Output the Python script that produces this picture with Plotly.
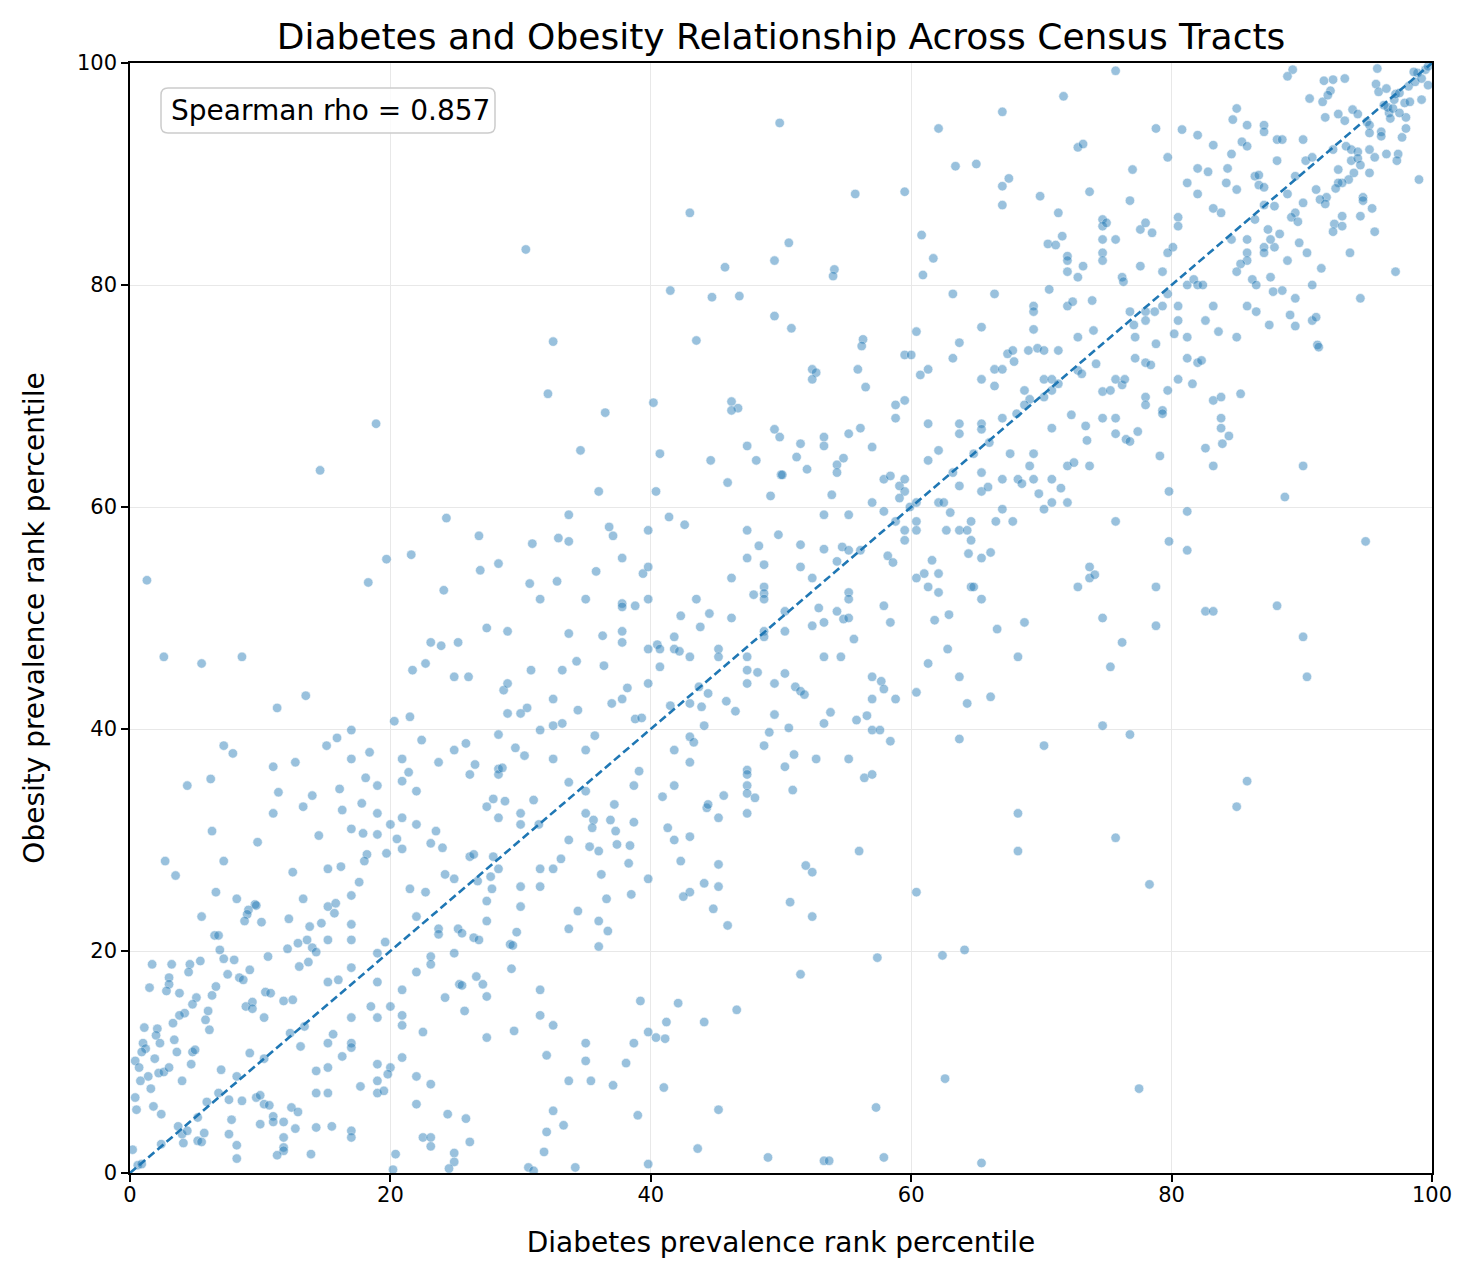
import plotly.graph_objects as go

# ===============================================================
# Data: rank percentiles, grouped by region
# ===============================================================

# lower-left block (diabetes 0-25, obesity 0-33)
diab_a = [
    11.0, 13.3, 16.3, 17.8, 19.0, 6.3, 9.8, 14.5, 17.0, 17.9,
    19.0, 20.0, 20.9, 22.0, 23.5, 23.1, 24.0, 20.5, 20.9, 19.7,
    2.7, 7.2, 3.5, 12.5, 15.2, 16.2, 18.2, 18.0, 17.6, 24.2,
    24.9, 6.6, 8.2, 13.3, 9.6, 9.1, 9.7, 9.0, 8.8, 10.1,
    5.5, 12.2, 15.2, 15.8, 15.7, 17.0, 21.5, 22.7, 22.0, 23.7,
    23.7, 25.2, 6.5, 6.8, 13.8, 14.7, 17.0, 17.0, 15.2, 13.6,
    12.9, 12.1, 14.0, 14.3, 13.7, 13.0, 10.6, 6.9, 7.2, 8.0,
    9.2, 1.7, 3.2, 4.6, 4.5, 5.4, 3.0, 3.0, 2.8, 1.5,
    3.8, 5.1, 4.8, 4.2, 3.8, 6.0, 5.8, 6.1, 6.3, 6.6,
    7.5, 8.4, 8.7, 10.4, 10.8, 8.9, 9.4, 9.4, 10.3, 11.8,
    12.5, 15.2, 16.0, 17.0, 19.0, 19.6, 19.0, 18.5, 20.0, 19.0,
    17.0, 20.9, 20.9, 20.9, 22.0, 23.1, 23.1, 24.2, 24.9, 25.3,
    22.5, 1.1, 2.1, 2.0, 2.3, 1.0, 1.2, 0.9, 3.4, 3.3,
    3.6, 4.8, 5.0, 4.7, 1.9, 0.4, 0.7, 1.4, 2.2, 2.6,
    3.0, 0.8, 1.6, 4.0, 7.0, 9.2, 10.3, 12.3, 13.4, 13.1,
    15.6, 15.2, 17.0, 17.0, 16.3, 14.3, 15.2, 19.0, 20.0, 19.8,
    19.0, 19.0, 19.5, 17.7, 15.2, 14.3, 20.9, 22.0, 23.1, 22.0,
    24.4, 22.5, 23.1, 23.1, 24.9, 24.9, 24.5, 20.4, 20.2, 0.4,
    0.5, 1.8, 2.4, 6.8, 8.2, 7.6, 8.6, 9.7, 10.0, 10.3,
    10.7, 5.9, 5.2, 3.7, 4.0, 4.4, 4.1, 2.4, 5.2, 5.5,
    5.7, 7.8, 7.6, 8.2, 8.2, 10.0, 11.0, 11.0, 11.8, 12.4,
    12.9, 12.7, 11.8, 11.8, 11.8, 11.3, 13.9, 14.3, 15.5, 17.0,
    17.0, 0.2, 0.6, 0.9,
]
obes_a = [
    32.4, 33.0, 32.7, 33.3, 32.4, 30.8, 29.8, 30.4, 31.0, 30.6,
    30.5, 31.4, 32.0, 31.4, 30.8, 29.7, 29.3, 30.1, 29.2, 28.8,
    28.1, 28.1, 26.8, 27.1, 27.4, 27.6, 28.7, 28.1, 26.2, 26.9,
    26.5, 25.3, 24.7, 24.7, 24.2, 23.7, 24.1, 23.3, 22.7, 22.6,
    23.1, 22.9, 24.0, 24.3, 23.4, 25.0, 25.6, 25.3, 23.1, 22.0,
    21.5, 22.0, 21.4, 21.4, 22.2, 22.5, 22.4, 21.0, 21.0, 21.0,
    20.7, 20.2, 20.3, 19.9, 19.0, 18.6, 19.5, 20.1, 19.3, 19.2,
    18.3, 18.8, 18.8, 18.8, 18.1, 19.1, 17.6, 17.0, 16.4, 16.7,
    16.2, 15.8, 15.2, 14.4, 14.2, 14.6, 13.8, 12.9, 16.0, 16.8,
    17.9, 17.6, 17.4, 16.3, 16.2, 15.0, 15.4, 14.8, 14.0, 15.5,
    15.6, 17.2, 17.4, 18.5, 19.8, 20.8, 17.2, 15.0, 15.0, 14.0,
    14.0, 16.5, 14.2, 13.3, 18.1, 19.5, 18.8, 15.8, 19.8, 17.0,
    12.7, 13.1, 13.0, 12.4, 11.7, 11.7, 11.2, 10.9, 12.0, 13.5,
    10.9, 10.9, 11.1, 9.8, 10.3, 10.1, 9.5, 8.7, 9.0, 9.1,
    9.5, 8.3, 7.6, 8.3, 9.3, 10.8, 10.3, 12.6, 13.2, 11.4,
    12.5, 11.7, 11.7, 11.3, 10.5, 9.2, 9.5, 9.8, 9.5, 8.9,
    8.3, 7.2, 7.4, 7.8, 7.2, 7.2, 10.4, 8.7, 8.0, 6.2,
    5.3, 3.2, 3.2, 2.4, 1.8, 1.0, 0.4, 1.7, 0.3, 6.8,
    5.7, 6.0, 5.3, 7.2, 8.7, 6.6, 6.5, 6.8, 7.0, 6.2,
    6.1, 6.4, 5.0, 4.2, 3.5, 3.8, 2.7, 2.6, 2.9, 2.8,
    3.6, 4.8, 3.5, 2.5, 1.3, 4.4, 5.1, 4.6, 4.6, 5.9,
    5.5, 4.0, 3.2, 2.3, 2.0, 1.6, 1.7, 4.1, 4.2, 3.8,
    3.2, 2.1, 0.7, 0.8,
]

# left middle (diabetes 0-25, obesity 33-67) plus the lone upper outlier
diab_b = [
    14.6, 24.3, 19.7, 21.6, 18.3, 24.1, 1.3, 2.6, 5.5, 8.6,
    23.1, 23.9, 25.2, 21.7, 22.7, 24.9, 13.5, 11.3, 20.3, 21.5,
    22.4, 24.9, 23.7, 7.2, 7.9, 11.0, 12.7, 15.1, 15.9, 17.0,
    18.4, 17.0, 20.9, 21.4, 20.9, 22.0, 18.1, 19.0, 16.1, 14.0,
    11.4, 4.4, 6.2, 18.9,
]
obes_b = [
    63.3, 59.0, 55.3, 55.7, 53.2, 52.5, 53.4, 46.5, 45.9, 46.5,
    47.8, 47.5, 47.8, 45.3, 45.9, 44.7, 43.0, 41.9, 40.7, 41.1,
    39.0, 38.1, 37.0, 38.5, 37.8, 36.6, 37.0, 38.5, 39.2, 39.9,
    37.9, 37.3, 37.3, 36.1, 35.3, 34.4, 35.6, 34.9, 34.6, 34.0,
    34.3, 34.9, 35.5, 67.5,
]

# diabetes 25-50, obesity 0-33
diab_c = [
    27.4, 28.3, 30.0, 30.0, 31.4, 35.0, 35.6, 35.5, 36.9, 37.2,
    37.3, 38.7, 33.7, 35.3, 36.0, 37.4, 38.4, 38.3, 36.2, 36.6,
    38.5, 39.8, 33.1, 32.5, 31.5, 31.5, 30.0, 30.0, 26.1, 26.4,
    27.9, 28.3, 27.7, 26.7, 27.8, 27.4, 27.4, 25.5, 26.4, 26.8,
    29.7, 29.2, 29.4, 33.7, 34.4, 36.0, 36.7, 36.0, 29.3, 26.6,
    27.1, 25.5, 27.4, 25.7, 31.5, 31.5, 32.5, 29.5, 27.4, 32.0,
    35.0, 35.0, 33.7, 35.4, 37.1, 38.1, 38.7, 39.2, 39.8, 40.4,
    41.1, 41.2, 42.1, 44.1, 46.6, 41.0, 45.2, 39.0, 43.6, 49.0,
    39.8, 34.2, 30.6, 31.0, 25.8, 26.1, 32.5, 33.3, 32.0, 31.8,
    41.3, 41.8, 43.0, 42.3, 45.2, 44.3, 44.4, 47.4, 45.2, 44.1,
    45.2, 43.0, 42.5, 44.8, 45.9,
]
obes_c = [
    33.0, 32.0, 32.4, 31.4, 31.4, 32.4, 31.8, 31.1, 31.8, 33.2,
    30.8, 31.6, 30.0, 29.4, 29.0, 29.6, 29.5, 27.9, 26.9, 24.7,
    25.1, 26.5, 28.3, 27.4, 27.4, 25.8, 25.8, 24.0, 28.5, 28.7,
    28.5, 27.4, 26.7, 26.3, 25.6, 24.5, 22.7, 21.6, 21.2, 21.0,
    21.7, 20.6, 20.5, 22.0, 23.6, 22.7, 21.8, 20.4, 18.4, 17.7,
    17.0, 16.9, 15.9, 14.6, 16.5, 14.2, 13.3, 12.8, 12.2, 10.6,
    11.7, 10.1, 8.3, 8.3, 7.9, 9.9, 11.7, 15.5, 12.7, 12.2,
    12.1, 13.6, 15.3, 13.6, 14.7, 7.7, 5.7, 5.2, 2.2, 1.4,
    0.8, 0.5, 0.5, 0.2, 4.9, 2.8, 5.6, 4.3, 3.7, 1.9,
    31.1, 30.0, 30.3, 28.1, 32.0, 32.9, 33.2, 32.4, 27.8, 26.1,
    25.8, 25.3, 24.9, 23.8, 22.3,
]

# diabetes 25-50, obesity 33-67
diab_d = [
    34.6, 40.7, 36.0, 40.4, 44.6, 47.4, 48.1, 45.9, 49.2, 49.9,
    50.0, 33.7, 26.8, 30.9, 32.9, 33.7, 36.8, 37.1, 39.8, 41.4,
    42.6, 47.4, 49.8, 48.3, 47.4, 48.7, 46.2, 48.7, 48.7, 48.7,
    47.9, 26.9, 28.3, 30.7, 31.5, 32.8, 35.0, 35.8, 37.8, 39.4,
    39.8, 39.8, 37.8, 37.8, 38.8, 43.5, 44.5, 46.2, 42.3, 43.8,
    41.8, 27.4, 29.0, 33.7, 36.3, 37.8, 37.8, 39.8, 40.5, 40.7,
    41.8, 42.2, 43.0, 40.7, 45.2, 45.2, 47.4, 47.4, 48.2, 48.7,
    48.7, 26.0, 30.8, 33.2, 34.3, 36.4, 28.7, 29.0, 32.5, 34.4,
    30.5, 30.0, 29.0, 31.5, 32.5, 33.2, 28.3, 25.8, 29.6, 30.3,
    32.5, 35.0, 35.7, 37.0, 37.8, 38.2, 38.8, 39.3, 39.8, 41.5,
    43.0, 43.7, 44.4, 43.9, 44.1, 45.8, 46.5, 47.4, 49.5, 49.5,
    49.1, 48.7, 43.0, 43.3, 41.8, 43.0, 39.1, 26.5, 26.1, 28.3,
    28.3, 28.6, 33.7, 35.0, 38.7, 41.8, 40.9, 45.6, 47.4, 47.4,
    47.4, 47.4, 48.0, 27.9, 28.8, 31.0,
]
obes_d = [
    65.1, 64.8, 61.4, 61.4, 64.2, 65.5, 64.2, 62.2, 61.0, 66.3,
    62.9, 59.3, 57.4, 56.7, 57.2, 56.9, 58.2, 57.4, 57.9, 59.1,
    58.4, 57.9, 57.5, 56.5, 55.4, 54.8, 53.6, 52.8, 52.2, 51.7,
    52.1, 54.3, 54.9, 53.1, 51.7, 53.3, 51.7, 54.2, 55.4, 54.0,
    54.6, 51.7, 51.3, 51.0, 51.1, 51.7, 50.4, 50.0, 50.2, 49.2,
    48.3, 49.1, 48.8, 48.6, 48.4, 48.8, 47.8, 47.2, 47.6, 47.2,
    47.2, 47.0, 46.5, 45.6, 47.2, 46.5, 46.5, 45.3, 45.1, 48.8,
    48.3, 44.7, 45.3, 45.3, 46.1, 45.7, 43.5, 44.1, 42.7, 41.7,
    41.9, 41.4, 41.4, 39.9, 40.3, 40.5, 39.5, 38.7, 38.3, 37.6,
    37.3, 38.1, 39.4, 42.3, 42.7, 43.7, 40.9, 41.0, 44.1, 42.1,
    42.3, 43.8, 43.2, 42.0, 40.3, 42.5, 41.6, 44.1, 44.1, 41.3,
    39.7, 38.5, 39.3, 38.8, 38.1, 37.0, 36.2, 36.8, 35.9, 36.4,
    35.9, 36.5, 35.2, 34.4, 34.9, 34.9, 33.9, 34.0, 36.3, 35.9,
    34.9, 34.2, 33.8, 33.7, 33.5, 33.6,
]

# diabetes 50-100, obesity 0-33 (sparse lower-right corner)
diab_e = [
    68.2, 68.2, 56.0, 51.9, 52.4, 50.7, 52.4, 60.4, 57.4, 62.4,
    64.1, 51.5, 62.6, 57.3, 53.3, 53.7, 57.9, 65.4, 85.0, 75.7,
    78.3, 77.5,
]
obes_e = [
    32.4, 29.0, 29.0, 27.7, 27.1, 24.4, 23.1, 25.3, 19.4, 19.6,
    20.1, 17.9, 8.5, 5.9, 1.1, 1.1, 1.4, 0.9, 33.0, 30.2,
    26.0, 7.6,
]

# diabetes 50-75, obesity 33-67
diab_f = [
    51.5, 53.3, 53.3, 55.2, 51.2, 52.0, 54.3, 54.3, 54.8, 57.0,
    50.1, 53.9, 57.0, 53.3, 55.2, 57.9, 58.4, 59.1, 59.5, 59.5,
    59.1, 59.9, 60.4, 57.9, 58.8, 59.5, 60.4, 60.4, 59.5, 61.3,
    62.1, 63.7, 64.8, 66.0, 63.2, 63.7, 65.4, 65.4, 65.9, 62.1,
    62.5, 63.0, 67.0, 67.6, 68.2, 68.5, 69.4, 69.4, 69.1, 69.8,
    70.8, 71.5, 72.0, 72.5, 73.7, 73.5, 70.2, 70.8, 72.0, 67.0,
    66.5, 67.8, 64.6, 63.7, 64.3, 62.7, 64.6, 64.4, 65.4, 66.1,
    51.5, 51.5, 53.3, 54.7, 55.2, 56.1, 54.3, 52.4, 58.2, 58.6,
    61.6, 61.0, 62.1, 60.4, 61.3, 62.1, 64.6, 64.8, 65.4, 55.2,
    55.2, 50.3, 52.9, 54.3, 54.8, 55.2, 52.4, 53.3, 50.3, 57.9,
    58.4, 55.6, 53.3, 54.6, 61.8, 62.9, 66.6, 68.7, 72.8, 73.7,
    73.7, 74.1, 74.7, 62.8, 61.3, 63.7, 64.3, 66.1, 68.2, 60.4,
    50.3, 51.1, 51.5, 51.8, 57.0, 57.7, 57.9, 57.0, 58.8, 53.8,
    53.3, 55.8, 56.6, 57.0, 57.6, 58.4, 50.6, 51.0, 50.3, 52.7,
    55.2, 56.4, 57.0, 50.9, 63.7, 70.2, 74.7,
]
obes_f = [
    65.7, 66.3, 65.5, 66.6, 64.5, 63.4, 63.8, 63.1, 64.4, 65.4,
    62.9, 61.1, 60.4, 59.3, 59.3, 62.5, 62.8, 61.9, 62.5, 61.4,
    60.8, 60.0, 60.4, 59.6, 58.7, 57.9, 58.7, 57.9, 57.0, 64.2,
    65.1, 66.6, 64.8, 65.8, 63.1, 61.9, 63.1, 61.4, 61.8, 60.4,
    60.4, 59.5, 62.5, 64.8, 62.5, 62.1, 62.5, 64.8, 63.7, 61.2,
    62.5, 61.7, 63.7, 64.0, 63.7, 66.0, 59.8, 60.4, 60.4, 59.8,
    58.7, 58.7, 58.7, 57.9, 57.9, 57.9, 57.0, 55.8, 55.4, 55.9,
    56.6, 54.6, 56.2, 56.4, 56.1, 56.1, 55.1, 53.6, 55.6, 55.0,
    55.2, 54.0, 54.0, 53.6, 52.8, 52.3, 52.8, 52.8, 51.7, 52.3,
    51.7, 50.6, 50.9, 50.6, 49.9, 50.0, 49.3, 49.6, 48.8, 51.1,
    49.6, 48.1, 46.5, 46.5, 49.8, 50.3, 49.0, 49.6, 52.8, 54.6,
    53.6, 53.9, 50.0, 47.2, 45.9, 44.7, 42.3, 42.9, 46.5, 43.3,
    45.0, 43.8, 43.4, 43.1, 44.7, 44.3, 43.6, 42.7, 42.7, 41.5,
    40.5, 40.8, 41.2, 39.9, 39.9, 38.9, 40.1, 37.7, 36.6, 37.3,
    37.3, 35.6, 35.9, 34.5, 39.1, 38.5, 40.3,
]

# diabetes 75-100, obesity 33-67
diab_g = [
    75.7, 76.5, 76.8, 79.1, 82.6, 83.9, 84.4, 83.2, 90.1, 79.8,
    88.7, 81.2, 75.7, 79.8, 81.2, 94.9, 78.8, 82.6, 83.2, 88.1,
    78.8, 76.2, 90.1, 75.3, 90.4, 76.8, 85.8,
]
obes_g = [
    66.6, 66.1, 65.9, 64.6, 65.3, 65.7, 66.4, 63.7, 63.7, 61.4,
    60.9, 59.6, 58.7, 56.9, 56.1, 56.9, 52.8, 50.6, 50.6, 51.1,
    49.3, 47.8, 48.3, 45.6, 44.7, 39.5, 35.3,
]

# diabetes 25-50, obesity 67-100
diab_h = [
    49.9, 43.0, 30.4, 45.7, 49.5, 41.5, 44.7, 46.8, 49.5, 32.5,
    43.5, 32.1, 36.5, 40.2, 46.2, 46.7, 46.2, 49.5,
]
obes_h = [
    94.6, 86.5, 83.2, 81.6, 82.2, 79.5, 78.9, 79.0, 77.2, 74.9,
    75.0, 70.2, 68.5, 69.4, 69.5, 68.9, 68.7, 67.0,
]

# diabetes 50-75, obesity 67-100
diab_i = [
    71.7, 67.0, 62.1, 72.8, 73.2, 63.4, 65.0, 67.5, 67.0, 67.0,
    73.7, 69.9, 71.3, 55.7, 59.5, 50.6, 60.8, 61.7, 60.9, 54.1,
    54.0, 71.6, 70.5, 71.1, 72.0, 72.0, 72.0, 73.2, 72.8, 74.7,
    74.7, 75.0, 74.7, 74.7, 74.7, 63.2, 66.4, 70.6, 69.4, 69.4,
    72.0, 72.4, 73.9, 50.8, 56.3, 56.2, 60.4, 65.4, 63.7, 69.4,
    72.8, 74.0, 59.5, 60.0, 63.2, 67.4, 67.8, 67.9, 69.0, 69.7,
    70.2, 71.3, 74.2, 52.4, 52.7, 52.4, 55.9, 56.5, 60.7, 61.3,
    65.4, 66.4, 67.0, 66.4, 68.7, 69.1, 68.7, 68.1, 70.2, 70.8,
    70.8, 71.3, 70.2, 72.8, 73.1, 74.7, 72.3, 73.4, 74.7, 70.8,
    67.0, 65.4, 65.4, 63.7, 61.3, 59.5, 58.8, 58.8, 56.1,
]
obes_i = [
    97.0, 95.6, 94.1, 92.4, 92.7, 90.7, 90.9, 89.6, 88.9, 87.2,
    88.4, 88.0, 86.5, 88.2, 88.4, 83.8, 84.5, 82.4, 80.9, 81.4,
    80.8, 84.4, 83.7, 83.6, 82.6, 82.2, 81.2, 81.7, 80.7, 85.9,
    85.3, 85.6, 84.1, 82.9, 82.2, 79.2, 79.2, 79.6, 78.1, 77.6,
    78.1, 78.5, 78.6, 76.1, 75.1, 74.5, 75.8, 76.2, 74.8, 76.0,
    75.3, 75.9, 73.7, 73.7, 73.4, 73.8, 74.1, 73.1, 74.1, 74.3,
    74.1, 74.1, 72.9, 72.4, 72.1, 71.5, 72.4, 70.8, 71.9, 72.4,
    71.5, 72.4, 72.4, 70.9, 70.5, 69.7, 69.2, 68.4, 71.5, 71.5,
    70.5, 71.1, 69.9, 72.3, 72.0, 70.4, 68.3, 67.3, 68.0, 67.1,
    68.0, 67.5, 67.0, 67.5, 67.5, 69.6, 69.2, 68.0, 67.1,
]

# diabetes 75-100, obesity 67-100 (dense upper-right corner)
diab_j = [
    75.7, 89.3, 88.9, 91.7, 92.4, 93.3, 95.8, 95.7, 95.9, 96.5,
    90.6, 91.6, 92.2, 92.0, 85.0, 84.7, 85.8, 87.1, 87.1, 78.8,
    80.8, 82.0, 83.2, 85.4, 85.8, 88.1, 88.5, 90.1, 91.8, 92.8,
    93.3, 93.9, 94.3, 95.0, 95.2, 95.2, 96.1, 96.1, 97.7, 98.0,
    98.0, 96.7, 96.8, 96.3, 96.6, 97.0, 97.5, 97.1, 97.2, 97.5,
    97.9, 98.3, 99.2, 98.2, 98.7, 98.9, 98.6, 99.2, 99.5, 99.7,
    99.7, 99.0, 79.7, 77.0, 76.8, 82.0, 82.8, 81.2, 82.0, 84.3,
    84.2, 84.6, 85.0, 83.2, 83.8, 86.4, 86.7, 86.7, 87.1, 88.1,
    89.5, 90.3, 90.8, 92.4, 93.4, 93.8, 94.3, 93.8, 94.3, 94.5,
    95.2, 95.6, 96.5, 97.4, 97.3, 92.8, 94.0, 95.2, 93.6, 93.1,
    92.8, 92.6, 91.1, 91.9, 91.4, 91.8, 90.1, 88.9, 87.9, 87.1,
    86.4, 89.5, 89.2, 89.7, 94.7, 94.7, 95.4, 94.5, 93.1, 92.5,
    93.1, 92.4, 95.6, 75.7, 77.6, 78.0, 78.5, 80.5, 80.5, 80.1,
    79.7, 77.6, 79.3, 76.2, 76.3, 81.2, 81.7, 82.0, 82.4, 79.7,
    79.3, 78.7, 78.0, 78.0, 76.8, 77.1, 77.2, 78.8, 80.2, 80.5,
    80.5, 81.2, 82.6, 83.2, 83.6, 85.0, 84.6, 85.8, 85.8, 85.8,
    85.3, 85.0, 87.1, 87.1, 87.9, 87.6, 87.4, 88.3, 88.9, 89.8,
    90.4, 91.5, 93.7, 97.2, 86.2, 86.5, 87.6, 87.8, 88.5, 89.5,
    90.8, 94.5, 85.8, 86.5, 87.5, 89.1, 89.5, 90.8, 91.1, 91.2,
    91.3, 77.2, 78.0, 78.4, 81.2, 82.0, 82.3, 80.5, 81.6, 79.7,
    75.7, 76.2, 76.4, 75.3, 78.0, 78.0, 79.3, 79.3, 83.2, 83.8,
    85.3, 83.8, 83.8, 75.7, 77.4,
]
obes_j = [
    99.3, 99.4, 98.8, 98.4, 98.5, 98.6, 99.5, 98.1, 97.4, 97.7,
    96.8, 96.5, 97.5, 97.1, 95.9, 94.9, 94.4, 94.4, 93.8, 94.1,
    94.0, 93.5, 92.6, 92.9, 92.5, 93.1, 93.1, 93.1, 95.1, 95.4,
    94.8, 95.8, 95.4, 94.7, 94.4, 93.7, 93.8, 93.4, 93.3, 94.1,
    95.1, 95.5, 95.0, 96.2, 96.0, 95.9, 95.5, 96.7, 97.2, 97.3,
    96.4, 96.5, 96.7, 97.9, 98.3, 99.1, 99.2, 98.6, 99.4, 98.0,
    99.7, 89.5, 91.5, 90.4, 87.6, 90.5, 90.2, 89.2, 88.2, 90.5,
    89.2, 91.8, 88.6, 86.9, 86.5, 89.8, 89.9, 89.0, 88.8, 91.2,
    89.8, 91.2, 91.5, 92.2, 92.5, 92.2, 92.0, 91.2, 91.4, 90.8,
    92.2, 91.5, 91.8, 91.8, 91.2, 90.4, 90.1, 90.1, 89.5, 89.2,
    89.2, 88.7, 88.6, 87.9, 87.7, 87.3, 87.4, 88.2, 87.1, 87.2,
    85.9, 86.5, 86.1, 85.7, 87.9, 87.6, 86.9, 86.2, 86.2, 85.5,
    85.3, 84.8, 84.8, 84.1, 85.0, 85.6, 84.7, 86.1, 85.3, 83.4,
    82.9, 81.7, 81.2, 80.7, 80.3, 80.0, 80.5, 80.0, 80.0, 79.2,
    78.1, 77.6, 77.6, 76.8, 77.6, 76.4, 75.3, 74.7, 75.6, 78.1,
    76.8, 75.3, 76.8, 78.1, 75.8, 75.3, 84.1, 84.1, 82.9, 82.2,
    81.9, 81.2, 83.4, 82.9, 83.4, 84.1, 85.0, 84.6, 82.2, 83.8,
    82.9, 81.5, 82.9, 81.2, 80.5, 80.0, 80.7, 79.4, 79.5, 78.8,
    80.0, 78.8, 78.1, 77.6, 76.4, 77.3, 76.3, 76.8, 77.1, 74.6,
    74.4, 73.4, 73.0, 72.8, 73.4, 73.0, 73.2, 71.5, 71.1, 70.5,
    71.5, 71.0, 71.5, 70.5, 69.9, 69.2, 68.7, 68.4, 69.6, 69.9,
    70.2, 68.0, 67.1, 68.0, 66.8,
]

identity_line = [0, 100]
axis_ticks = [0, 20, 40, 60, 80, 100]
rho_label = "Spearman rho = 0.857"

diabetes_pct = diab_a + diab_b + diab_c + diab_d + diab_e + diab_f + diab_g + diab_h + diab_i + diab_j
obesity_pct = obes_a + obes_b + obes_c + obes_d + obes_e + obes_f + obes_g + obes_h + obes_i + obes_j
if len(diabetes_pct) != len(obesity_pct):
    raise ValueError(f"length mismatch {len(diabetes_pct)} vs {len(obesity_pct)}")

# ===============================================================
# Figure
# ===============================================================

FONT = "DejaVu Sans"
BLUE = "#1f77b4"
PLOT_W, PLOT_H = 1302, 1110  # plot area size in px


def rounded_box(left, top, right, bottom, r):
    """SVG path (paper coords) for a rounded rectangle given in px from the plot's top-left."""
    def px(v):
        return v / PLOT_W

    def py(v):
        return 1 - v / PLOT_H

    return (
        f"M {px(left + r)},{py(top)} H {px(right - r)} "
        f"Q {px(right)},{py(top)} {px(right)},{py(top + r)} V {py(bottom - r)} "
        f"Q {px(right)},{py(bottom)} {px(right - r)},{py(bottom)} H {px(left + r)} "
        f"Q {px(left)},{py(bottom)} {px(left)},{py(bottom - r)} V {py(top + r)} "
        f"Q {px(left)},{py(top)} {px(left + r)},{py(top)} Z"
    )


fig = go.Figure()

fig.add_trace(
    go.Scatter(
        x=diabetes_pct,
        y=obesity_pct,
        mode="markers",
        marker=dict(size=9.5, color=BLUE, opacity=0.45, line=dict(width=0.6, color="white")),
        showlegend=False,
    )
)

# y = x reference
fig.add_trace(
    go.Scatter(
        x=identity_line,
        y=identity_line,
        mode="lines",
        line=dict(color=BLUE, width=2.6, dash="8px,4px"),
        showlegend=False,
    )
)

axis_common = dict(
    range=[0, 100],
    tickvals=axis_ticks,
    showline=True,
    linecolor="black",
    linewidth=1.6,
    mirror=True,
    ticks="outside",
    ticklen=7,
    tickwidth=1.6,
    tickcolor="black",
    showgrid=True,
    gridcolor="#e8e8e8",
    gridwidth=1,
    zeroline=False,
    tickfont=dict(family=FONT, size=21, color="black"),
)

fig.update_xaxes(
    **axis_common,
    ticklabelstandoff=-5,
    title=dict(
        text="Diabetes prevalence rank percentile",
        font=dict(family=FONT, size=28, color="black"),
        standoff=26,
    ),
)
fig.update_yaxes(
    **axis_common,
    title=dict(
        text="Obesity prevalence rank percentile",
        font=dict(family=FONT, size=28, color="black"),
        standoff=24,
    ),
)

# rounded stats box like matplotlib's bbox(boxstyle="round")
fig.add_shape(
    type="path",
    xref="paper",
    yref="paper",
    path=rounded_box(31, 25, 365, 70, 7),
    fillcolor="rgba(255,255,255,0.8)",
    line=dict(color="#cccccc", width=1.5),
    layer="above",
)
fig.add_annotation(
    text=rho_label,
    xref="paper",
    yref="paper",
    x=40 / PLOT_W,
    y=1 - 47.5 / PLOT_H,
    xanchor="left",
    yanchor="middle",
    showarrow=False,
    align="left",
    font=dict(family=FONT, size=28, color="black"),
    borderpad=0,
)

# the page body adds an 8px offset, so margins are trimmed to keep the
# plot area at the reference position
fig.update_layout(
    title=dict(
        text="Diabetes and Obesity Relationship Across Census Tracts",
        x=0.5,
        xref="paper",
        xanchor="center",
        y=1 - 28 / 1278,
        yref="container",
        yanchor="middle",
        font=dict(family=FONT, size=36, color="black"),
    ),
    width=1480,
    height=1278,
    margin=dict(l=122, r=56, t=55, b=113),
    plot_bgcolor="white",
    paper_bgcolor="white",
    font=dict(family=FONT, color="black"),
)

fig.write_html("out.html")
